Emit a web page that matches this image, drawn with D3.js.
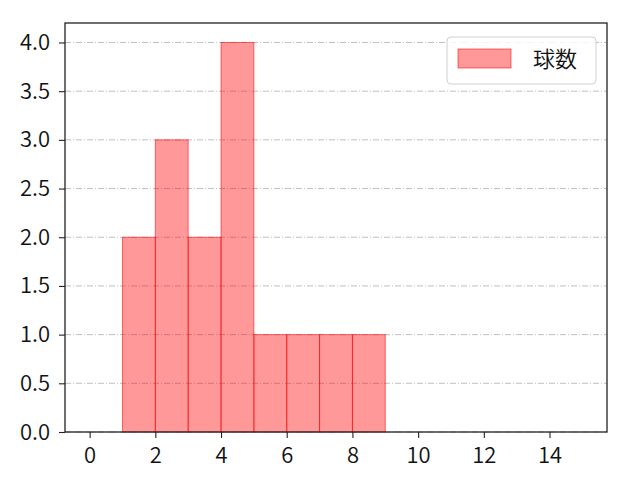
<!DOCTYPE html>
<html>
<head>
<meta charset="utf-8">
<script src="https://cdn.jsdelivr.net/npm/d3@7"></script>
<style>
  body { margin: 0; background: #fff; }
  svg { font-family: "Noto Sans CJK JP", sans-serif; }
</style>
</head>
<body>
<div id="chart"></div>
<script>
// histogram bins (start, end) and counts
const binStarts = [1, 2, 3, 4, 5, 6, 7, 8];
const binEnds = [2, 3, 4, 5, 6, 7, 8, 9];
const counts = [2, 3, 2, 4, 1, 1, 1, 1];
const xTicks = [0, 2, 4, 6, 8, 10, 12, 14];
const yTicks = [0, 0.5, 1.0, 1.5, 2.0, 2.5, 3.0, 3.5, 4.0];
const seriesName = '球数';

const width = 640;
const height = 480;
const margin = { top: 23, right: 33, bottom: 48, left: 65 };

const usableArea = {
  top: margin.top,
  right: width - margin.right,
  bottom: height - margin.bottom,
  left: margin.left,
};

const bins = binStarts.map((s, i) => ({ x0: s, x1: binEnds[i], n: counts[i] }));

const svg = d3.select('#chart')
  .append('svg')
  .attr('width', width)
  .attr('height', height);

const xScale = d3.scaleLinear()
  .domain([-0.75, 15.75])
  .range([usableArea.left, usableArea.right]);

const yScale = d3.scaleLinear()
  .domain([0, 4.2])
  .range([usableArea.bottom, usableArea.top]);

// gridlines (y only)
svg.append('g')
  .selectAll('line')
  .data(yTicks)
  .join('line')
  .attr('x1', usableArea.left)
  .attr('x2', usableArea.right)
  .attr('y1', (d) => yScale(d))
  .attr('y2', (d) => yScale(d))
  .attr('stroke', '#b0b0b0')
  .attr('stroke-width', 0.8)
  .attr('stroke-dasharray', '6,2,1,2');

// bars
svg.append('g')
  .selectAll('rect')
  .data(bins)
  .join('rect')
  .attr('x', (d) => xScale(d.x0))
  .attr('y', (d) => yScale(d.n))
  .attr('width', (d) => xScale(d.x1) - xScale(d.x0))
  .attr('height', (d) => yScale(0) - yScale(d.n))
  .attr('fill', 'rgba(255,0,0,0.4)')
  .attr('stroke', 'rgba(255,0,0,0.55)')
  .attr('stroke-width', 1);

// axes
const xAxis = d3.axisBottom(xScale).tickValues(xTicks).tickSize(6).tickPadding(9)
  .tickFormat(d3.format('d'));
const yAxis = d3.axisLeft(yScale).tickValues(yTicks).tickSize(6).tickPadding(9)
  .tickFormat(d3.format('.1f'));

const gx = svg.append('g')
  .attr('transform', `translate(0, ${usableArea.bottom})`)
  .call(xAxis);
const gy = svg.append('g')
  .attr('transform', `translate(${usableArea.left}, 0)`)
  .call(yAxis);

[gx, gy].forEach((g) => {
  g.select('.domain').remove();
  g.selectAll('line').attr('stroke', '#222').attr('stroke-width', 1.1);
  g.selectAll('text')
    .attr('fill', '#111')
    .style('font-size', '22px')
    .style('font-weight', '350')
    .style('font-family', '"Noto Sans CJK JP", sans-serif');
});

// frame
svg.append('rect')
  .attr('x', usableArea.left)
  .attr('y', usableArea.top)
  .attr('width', usableArea.right - usableArea.left)
  .attr('height', usableArea.bottom - usableArea.top)
  .attr('fill', 'none')
  .attr('stroke', '#222')
  .attr('stroke-width', 1.3);

// legend
const legend = svg.append('g').attr('transform', 'translate(447, 37)');
legend.append('rect')
  .attr('width', 149)
  .attr('height', 47)
  .attr('rx', 4)
  .attr('fill', 'rgba(255,255,255,0.8)')
  .attr('stroke', '#d0d0d0');
legend.append('rect')
  .attr('x', 11)
  .attr('y', 12)
  .attr('width', 53)
  .attr('height', 19)
  .attr('fill', 'rgba(255,0,0,0.4)')
  .attr('stroke', 'rgba(255,0,0,0.55)');
legend.append('text')
  .attr('x', 86)
  .attr('y', 30)
  .attr('fill', '#111')
  .style('font-size', '22px')
  .style('font-weight', '350')
  .style('font-family', '"Noto Sans CJK JP", sans-serif')
  .text(seriesName);
</script>
</body>
</html>
